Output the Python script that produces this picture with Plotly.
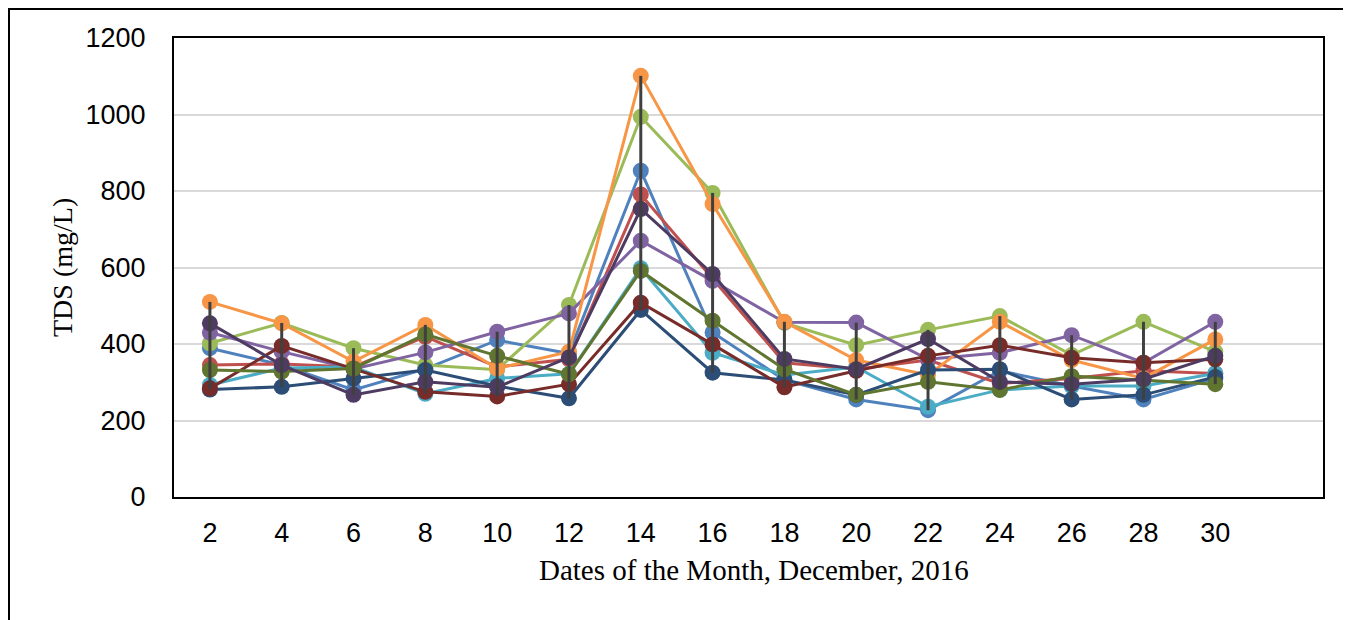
import numpy as np
import plotly.graph_objects as go

dates = [2, 4, 6, 8, 10, 12, 14, 16, 18, 20, 22, 24, 26, 28, 30]

s_blue        = [389, 345, 280, 335, 410, 375, 853, 430, 306, 255, 227, 330, 290, 255, 310]
s_red         = [345, 348, 340, 419, 340, 360, 791, 572, 351, 334, 358, 297, 310, 330, 323]
s_green       = [402, 455, 389, 345, 333, 502, 994, 795, 455, 397, 437, 473, 371, 458, 380]
s_purple      = [430, 380, 335, 378, 432, 480, 670, 565, 457, 456, 360, 377, 423, 351, 458]
s_aqua        = [293, 337, 340, 270, 310, 322, 598, 377, 319, 340, 236, 280, 290, 290, 323]
s_orange      = [510, 454, 354, 450, 336, 380, 1101, 766, 458, 358, 319, 458, 358, 310, 412]
s_dark_blue   = [281, 288, 310, 332, 290, 258, 489, 325, 306, 267, 332, 334, 255, 267, 314]
s_dark_red    = [284, 395, 335, 275, 263, 295, 508, 399, 287, 330, 369, 397, 364, 351, 360]
s_dark_green  = [332, 328, 336, 425, 369, 321, 591, 461, 334, 267, 301, 280, 316, 306, 295]
s_dark_purple = [454, 345, 267, 301, 287, 365, 753, 583, 361, 334, 413, 301, 295, 308, 369]

series = [s_blue, s_red, s_green, s_purple, s_aqua, s_orange,
          s_dark_blue, s_dark_red, s_dark_green, s_dark_purple]
colors = ["#4F81BD", "#C0504D", "#9BBB59", "#8064A2", "#4BACC6", "#F79646",
          "#2C4D75", "#772C2A", "#5F7530", "#4D3B62"]

y_ticks = [0, 200, 400, 600, 800, 1000, 1200]

fig = go.Figure()
for vals, col in zip(series, colors):
    fig.add_trace(go.Scatter(
        x=dates, y=vals, mode="lines+markers",
        line=dict(color=col, width=3),
        marker=dict(color=col, size=16),
        showlegend=False, hoverinfo="skip"))

# high-low lines
arr = np.array(series)
hx, hy = [], []
for i, d in enumerate(dates):
    hx += [d, d, None]
    hy += [float(arr[:, i].min()), float(arr[:, i].max()), None]
fig.add_trace(go.Scatter(x=hx, y=hy, mode="lines",
                         line=dict(color="#404040", width=3),
                         showlegend=False, hoverinfo="skip"))

# page has an 8px body margin; positions below are in page pixels
OFF = 8
W, H = 1351, 620
L, T = 174 - OFF, 38 - OFF
pw, ph = 1149, 459
R = W - L - pw
B = H - T - ph

def px(x):
    return (x - OFF - L) / pw

def py(y):
    return (T + ph - (y - OFF)) / ph

fig.update_layout(
    width=W, height=H,
    margin=dict(l=L, r=R, t=T, b=B),
    paper_bgcolor="white", plot_bgcolor="white",
    font=dict(family="Liberation Sans, Arial", color="black", size=27),
    xaxis=dict(range=[1, 33], tickvals=dates, ticktext=[str(d) for d in dates],
               showgrid=False, zeroline=False,
               showline=True, mirror=True, linecolor="black", linewidth=2,
               ticks="outside", ticklen=11, tickcolor="rgba(0,0,0,0)",
               tickfont=dict(size=27, family="Liberation Sans, Arial", color="black")),
    yaxis=dict(range=[0, 1200], tickvals=y_ticks,
               showgrid=True, gridcolor="#D9D9D9", gridwidth=2, zeroline=False,
               showline=True, mirror=True, linecolor="black", linewidth=2,
               ticks="outside", ticklen=21, tickcolor="rgba(0,0,0,0)",
               tickfont=dict(size=27, family="Liberation Sans, Arial", color="black")),
    annotations=[
        dict(text="Dates of the Month, December, 2016", xref="paper", yref="paper",
             x=px(754), y=py(570), xanchor="center", yanchor="middle", showarrow=False,
             font=dict(family="Liberation Serif, Times New Roman", size=29, color="black")),
        dict(text="TDS (mg/L)", xref="paper", yref="paper", textangle=-90,
             x=px(62), y=py(268), xanchor="center", yanchor="middle", showarrow=False,
             font=dict(family="Liberation Serif, Times New Roman", size=28, color="black")),
    ],
    shapes=[
        dict(type="rect", xref="paper", yref="paper",
             x0=px(9), x1=px(1450), y0=py(800), y1=py(9),
             line=dict(color="black", width=2), fillcolor="rgba(0,0,0,0)", layer="below"),
    ],
)

fig.write_html("out.html")
